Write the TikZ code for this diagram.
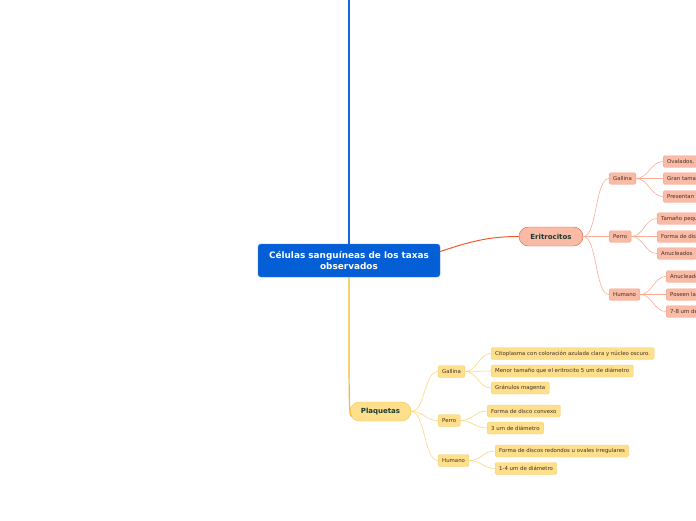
\documentclass[tikz,border=0pt]{standalone}
\usepackage{fontspec}
\setmainfont{DejaVu Sans}
\usepackage{xcolor}
\usepackage{tikz}
\usetikzlibrary{arrows.meta, positioning}
\definecolor{rootblue}{RGB}{4, 94, 214}
\definecolor{rootedge}{RGB}{60, 130, 230}
\definecolor{topline}{RGB}{20, 100, 220}
\definecolor{erifill}{RGB}{249, 186, 166}
\definecolor{eriedge}{RGB}{240, 90, 50}
\definecolor{erisub}{RGB}{246, 160, 135}
\definecolor{erilink}{RGB}{250, 172, 148}
\definecolor{plaqfill}{RGB}{253, 223, 140}
\definecolor{plaqedge}{RGB}{246, 196, 70}
\definecolor{plaqline}{RGB}{245, 184, 46}
\definecolor{plaqsub}{RGB}{250, 208, 120}
\definecolor{plaqlink}{RGB}{252, 214, 130}
\definecolor{titlegreen}{RGB}{24, 58, 48}
\definecolor{leaftext}{RGB}{70, 48, 36}

\begin{document}
\begin{tikzpicture}[x=1pt, y=-1pt,
  rootbox/.style={fill=rootblue, draw=rootedge, rounded corners=3pt, text=white,
    font=\fontsize{8.9}{10.5}\selectfont\bfseries, align=center,
    minimum width=182pt, minimum height=33pt, inner sep=2pt},
  topicE/.style={fill=erifill, draw=eriedge, rounded corners=9.5pt, text=titlegreen,
    font=\fontsize{7}{8}\selectfont\bfseries, minimum width=64pt, minimum height=19pt, inner sep=1pt},
  topicP/.style={fill=plaqfill, draw=plaqedge, rounded corners=9.5pt, text=titlegreen,
    font=\fontsize{7}{8}\selectfont\bfseries, minimum width=61pt, minimum height=19pt, inner sep=1pt},
  smallE/.style={fill=erifill, draw=erisub, rounded corners=1.5pt, text=leaftext, anchor=west,
    font=\fontsize{5.4}{6}\selectfont, minimum height=11.5pt, inner xsep=4pt, inner ysep=1pt},
  smallP/.style={fill=plaqfill, draw=plaqsub, rounded corners=1.5pt, text=leaftext, anchor=west,
    font=\fontsize{5.4}{6}\selectfont, minimum height=12pt, inner xsep=4pt, inner ysep=1pt},
  linkE/.style={draw=erilink, line width=0.6pt},
  linkP/.style={draw=plaqlink, line width=0.6pt}]

  \useasboundingbox (0,0) rectangle (696,520);
  \clip (0,0) rectangle (696,520);

  % central topic and the two main branches
  \node[rootbox] (root) at (349,260.5) {Células sanguíneas de los taxas\\observados};
  \node[topicE] (eri) at (551,236.5) {Eritrocitos};
  \node[topicP] (plaq) at (380.5,411.5) {Plaquetas};
  \coordinate (up) at (349,0);

  % Eritrocitos
  \node[smallE] (eGal) at (609,178.5) {Gallina};
  \node[smallE] (ePer) at (609,236.5) {Perro};
  \node[smallE] (eHum) at (609,294.5) {Humano};

  \node[smallE] (eGal1) at (663,161.5) {Ovalados, nucleados};
  \node[smallE] (eGal2) at (663,178.5) {Gran tamaño};
  \node[smallE] (eGal3) at (663,196.5) {Presentan núcleo central};
  \node[smallE] (ePer1) at (657,218.5) {Tamaño pequeño};
  \node[smallE] (ePer2) at (657,236.5) {Forma de disco bicóncavo};
  \node[smallE] (ePer3) at (657,253.5) {Anucleados\hspace{6pt}};
  \node[smallE] (eHum1) at (666,276.5) {Anucleados};
  \node[smallE] (eHum2) at (666,294.5) {Poseen la forma de disco};
  \node[smallE] (eHum3) at (666,311.5) {7-8 um de diámetro};

  % Plaquetas
  \node[smallP] (pGal) at (438,371.5) {Gallina};
  \node[smallP] (pPer) at (438,420.5) {Perro};
  \node[smallP] (pHum) at (438,460.5) {Humano};

  \node[smallP] (pGal1) at (491,353.5) {Citoplasma con coloración azulada clara y núcleo oscuro.};
  \node[smallP] (pGal2) at (491,371) {Menor tamaño que el eritrocito 5 um de diámetro};
  \node[smallP] (pGal3) at (491,388) {Gránulos magenta};
  \node[smallP] (pPer1) at (487,411) {Forma de disco convexo};
  \node[smallP] (pPer2) at (487,428) {3 um de diámetro};
  \node[smallP] (pHum1) at (495,451) {Forma de discos redondos u ovales irregulares};
  \node[smallP] (pHum2) at (495,468.5) {1-4 um de diámetro};

  % connectors
  \draw[topline, line width=1.4pt] (up) -- (root.north);
  \draw[eriedge, line width=1pt] (root.east) ++(0,-9) .. controls +(30,-10) and +(-30,0) .. (eri.west);
  \draw[plaqline, line width=1.2pt] (root.south) .. controls +(0,130) and +(-3,-1) .. ([xshift=2pt,yshift=-5pt]plaq.west);

  \foreach \k in {eGal,ePer,eHum}
    \draw[linkE] (eri.east) .. controls +(14,0) and +(-14,0) .. (\k.west);
  \foreach \k in {eGal1,eGal2,eGal3}
    \draw[linkE] (eGal.east) .. controls +(12,0) and +(-12,0) .. (\k.west);
  \foreach \k in {ePer1,ePer2,ePer3}
    \draw[linkE] (ePer.east) .. controls +(12,0) and +(-12,0) .. (\k.west);
  \foreach \k in {eHum1,eHum2,eHum3}
    \draw[linkE] (eHum.east) .. controls +(12,0) and +(-12,0) .. (\k.west);

  \foreach \k in {pGal,pPer,pHum}
    \draw[linkP] (plaq.east) .. controls +(14,0) and +(-14,0) .. (\k.west);
  \foreach \k in {pGal1,pGal2,pGal3}
    \draw[linkP] (pGal.east) .. controls +(12,0) and +(-12,0) .. (\k.west);
  \foreach \k in {pPer1,pPer2}
    \draw[linkP] (pPer.east) .. controls +(12,0) and +(-12,0) .. (\k.west);
  \foreach \k in {pHum1,pHum2}
    \draw[linkP] (pHum.east) .. controls +(12,0) and +(-12,0) .. (\k.west);
\end{tikzpicture}
\end{document}
